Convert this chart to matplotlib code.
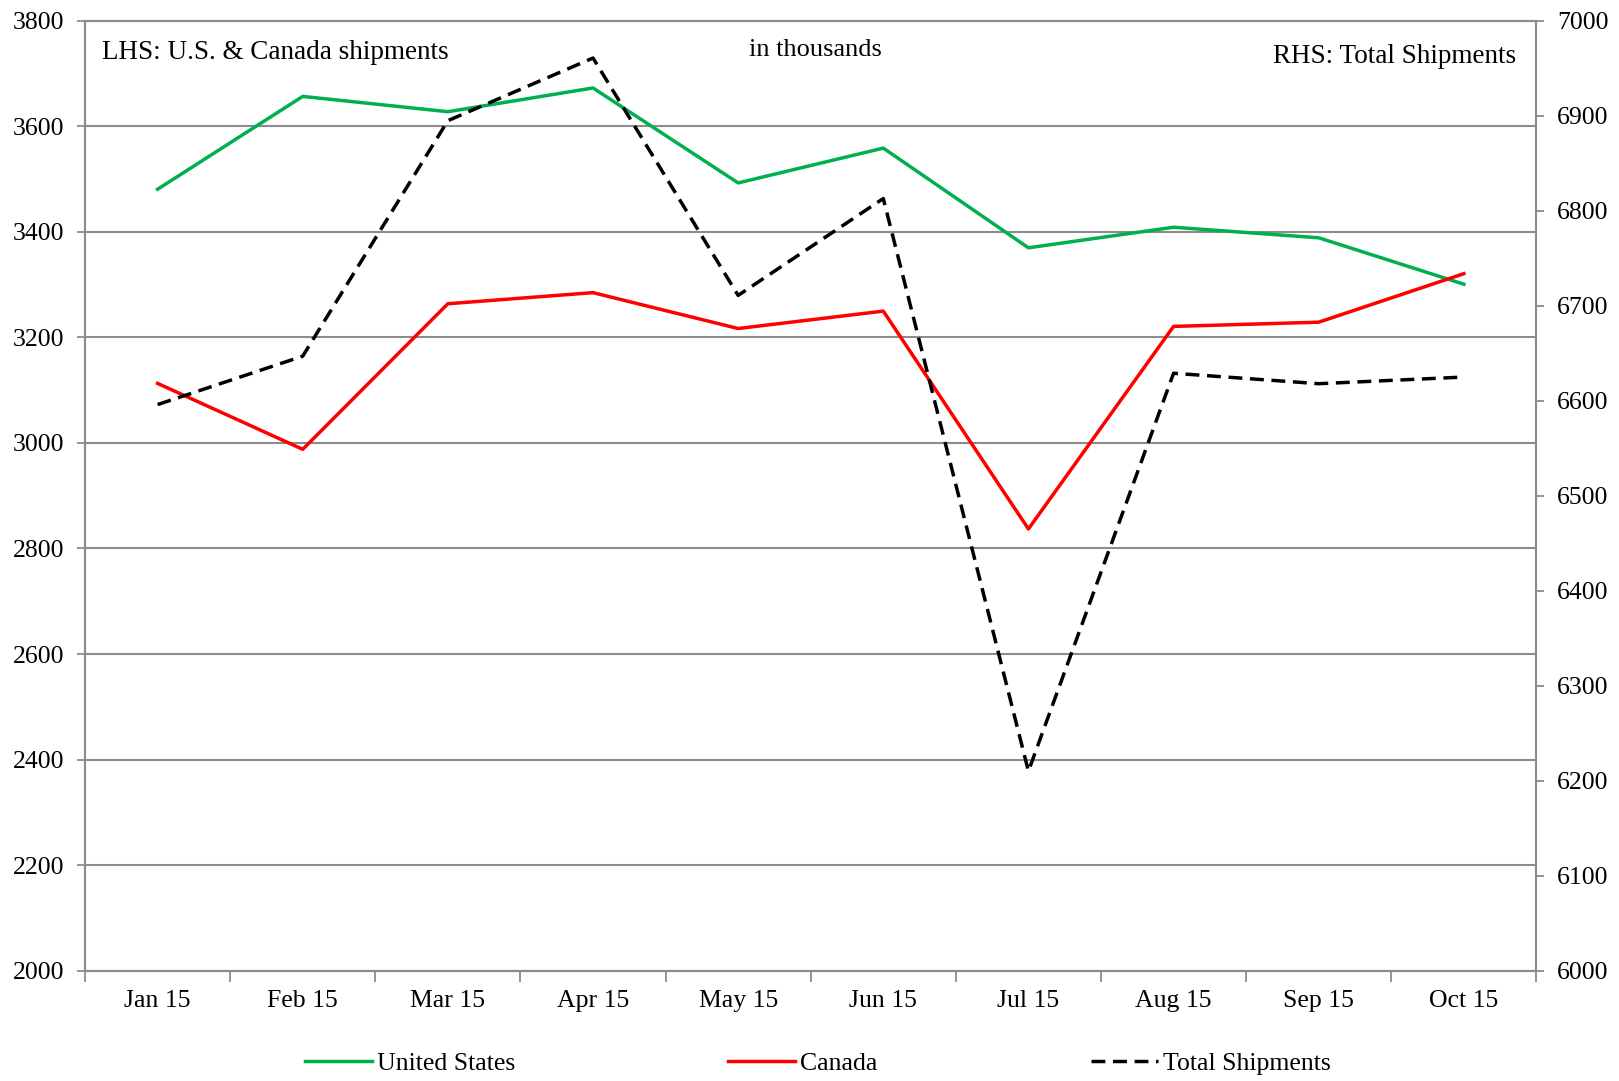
import numpy as np
import matplotlib.pyplot as plt

# monthly shipments, in thousands
months = ['Jan 15', 'Feb 15', 'Mar 15', 'Apr 15', 'May 15',
          'Jun 15', 'Jul 15', 'Aug 15', 'Sep 15', 'Oct 15']
us = [3481, 3657, 3628, 3673, 3493, 3559, 3370, 3409, 3389, 3301]
canada = [3113, 2988, 3264, 3285, 3217, 3250, 2837, 3221, 3229, 3321]
total = [6596, 6647, 6895, 6961, 6711, 6813, 6210, 6629, 6618, 6625]

plt.rcParams['font.family'] = ['Liberation Serif', 'DejaVu Serif']

grid_col = '#8c8c8c'

fig = plt.figure(figsize=(16.19, 10.81), dpi=100)
ax = fig.add_axes([0.0525, 0.1022, 0.8965, 0.8784])
ax2 = ax.twinx()

x = np.arange(len(months))

l1, = ax.plot(x, us, color='#00b050', lw=2.5, label='United States', zorder=3)
l2, = ax.plot(x, canada, color='#ff0000', lw=2.5, label='Canada', zorder=3)
l3, = ax2.plot(x, total, color='black', lw=2.5, ls=(0, (4, 2.2)), label='Total Shipments', zorder=3)

# left axis
ax.set_ylim(2000, 3800)
ax.set_yticks(np.arange(2000, 3801, 200))
ax.yaxis.grid(True, color=grid_col, lw=1.5)
ax.set_axisbelow(True)

# right axis
ax2.set_ylim(6000, 7000)
ax2.set_yticks(np.arange(6000, 7001, 100))

# categories sit between the tick marks
ax.set_xlim(-0.5, len(months) - 0.5)
ax.set_xticks(x)
ax.set_xticklabels(months)
ax.set_xticks(np.arange(-0.5, len(months)), minor=True)
ax.tick_params(axis='x', which='major', length=0, pad=14, labelsize=18.5)
ax.tick_params(axis='x', which='minor', length=8, width=1.3, color=grid_col, direction='out')
ax.tick_params(axis='y', length=6, width=1.3, color=grid_col, pad=9, labelsize=18.5)
ax2.tick_params(axis='y', length=6, width=1.3, color=grid_col, pad=9, labelsize=18.5)

for a in (ax, ax2):
    for s in a.spines.values():
        s.set_color(grid_col)
        s.set_linewidth(1.5)

# text boxes inside the plot
ax.text(0.012, 0.967, 'LHS: U.S. & Canada shipments', transform=ax.transAxes,
        fontsize=19.5, va='center', ha='left')
ax.text(0.503, 0.969, 'in thousands', transform=ax.transAxes,
        fontsize=19, va='center', ha='center')
ax.text(0.986, 0.963, 'RHS: Total Shipments', transform=ax.transAxes,
        fontsize=19.5, va='center', ha='right')

fig.legend(handles=[l1, l2, l3], loc='center', bbox_to_anchor=(0.505, 0.0166),
           ncol=3, frameon=False, fontsize=18.5, handlelength=2.6,
           handletextpad=0.2, columnspacing=8.3)

fig.savefig('out.png', dpi=100, facecolor='white')
